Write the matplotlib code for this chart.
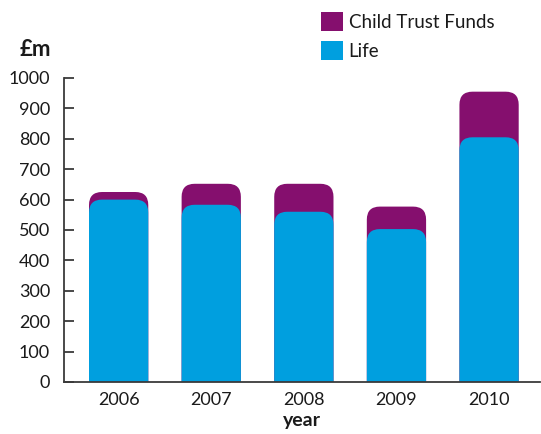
import matplotlib
matplotlib.use("Agg")
import matplotlib.pyplot as plt
from matplotlib.patches import FancyBboxPatch, Patch

plt.rcParams['font.family'] = ['Lato', 'DejaVu Sans']

years = ["2006", "2007", "2008", "2009", "2010"]
life = [600, 583, 560, 503, 805]
child_trust_funds = [25, 69, 92, 74, 150]
y_ticks = [0, 100, 200, 300, 400, 500, 600, 700, 800, 900, 1000]

purple = "#850f6e"
blue = "#009fdf"
axis_color = "#3a3a3a"
text_color = "#1a1a1a"

W, H = 541, 434
fig = plt.figure(figsize=(W / 100, H / 100), dpi=100)
ax = fig.add_axes([64 / W, 1 - 382 / H, (540 - 64) / W, (382 - 78) / H])

x = list(range(len(years)))
totals = [a + b for a, b in zip(life, child_trust_funds)]
ax.set_xlim(-0.59, 4.55)
ax.set_ylim(0, 1000)

# unit conversions for rounding the bar tops
p0 = ax.transData.transform((0, 0))
p1 = ax.transData.transform((1, 100))
x_per_px = 1 / (p1[0] - p0[0])
y_per_px = 100 / (p1[1] - p0[1])
radius_px = 13
rx = radius_px * x_per_px
aspect = y_per_px / x_per_px

width = 0.64
back = ax.bar(x, totals, width=width, color=purple, label="Child Trust Funds")
front = ax.bar(x, life, width=width, color=blue, label="Life")


def round_top(bars, color, z):
    for r in bars:
        r.set_visible(False)
        extra = 2 * radius_px * y_per_px
        patch = FancyBboxPatch(
            (r.get_x(), -extra), r.get_width(), r.get_height() + extra,
            boxstyle=f"round,pad=0,rounding_size={rx}",
            mutation_aspect=aspect,
            facecolor=color, edgecolor="none", zorder=z, clip_on=True)
        ax.add_patch(patch)


round_top(back, purple, 2)
round_top(front, blue, 3)

for s in ["top", "right"]:
    ax.spines[s].set_visible(False)
for s in ["left", "bottom"]:
    ax.spines[s].set_color(axis_color)
    ax.spines[s].set_linewidth(1.3)
    ax.spines[s].set_zorder(5)

ax.set_yticks(y_ticks)
ax.set_xticks(x)
ax.set_xticklabels(years)
ax.tick_params(axis="y", direction="in", length=7, width=1.3, color=axis_color,
               pad=10, labelsize=13, labelcolor=text_color)
ax.tick_params(axis="x", length=0, pad=7, labelsize=13, labelcolor=text_color)

ax.set_xlabel("year", fontsize=14, fontweight="bold", color=text_color, labelpad=3)
fig.text(35 / W, 1 - 50 / H, "£m", fontsize=16, fontweight="bold",
         color=text_color, ha="center", va="center")

handles = [Patch(facecolor=purple, label="Child Trust Funds"),
           Patch(facecolor=blue, label="Life")]
fig.legend(handles=handles, loc="upper left", bbox_to_anchor=(315 / W, 1 - 6 / H),
           frameon=False, fontsize=13.5, handlelength=1.2, handleheight=1.2,
           handletextpad=0.3, labelspacing=0.55, labelcolor=text_color,
           borderaxespad=0, borderpad=0.3)

fig.savefig("out.png", dpi=100)
